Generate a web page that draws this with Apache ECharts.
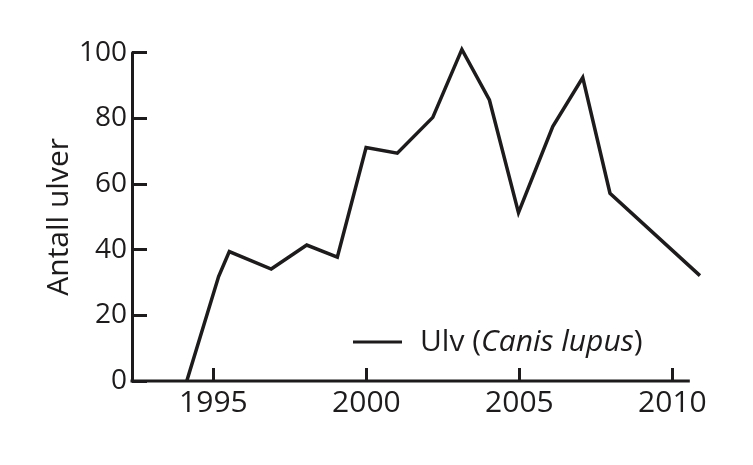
<!DOCTYPE html>
<html>
<head>
<meta charset="utf-8">
<script src="https://cdn.jsdelivr.net/npm/echarts@6/dist/echarts.min.js"></script>
<style>
html,body{margin:0;padding:0;background:#fff;}
#chart{width:753px;height:465px;}
</style>
</head>
<body>
<div id="chart"></div>
<script>
// Data (year, number of wolves)
var years  = [1994.13, 1995.17, 1995.52, 1996.89, 1998.05, 1999.05, 1999.99, 2001.01, 2002.17, 2003.12, 2004.02, 2004.97, 2006.09, 2007.07, 2007.96, 2010.90];
var wolves = [0, 31.8, 39.4, 34.1, 41.4, 37.7, 71.1, 69.4, 80.3, 101, 85.6, 51.3, 77.5, 92.4, 57.2, 32.1];
var xTickLabels = [1995, 2000, 2005, 2010];
var yTickLabels = [0, 20, 40, 60, 80, 100];
var xAxisStart = 1992.34;   // where the drawn x axis line begins
var xAxisEnd = 2010.52;     // where the drawn x axis line ends
var seriesName = 'Ulv (Canis lupus)';
var yAxisTitle = 'Antall ulver';

var FONT = '"Open Sans", sans-serif';
var INK = '#1d1b1c';

var points = years.map(function (y, i) { return [y, wolves[i]]; });

var chart = echarts.init(document.getElementById('chart'), null, {renderer: 'canvas'});
chart.setOption({
  animation: false,
  backgroundColor: '#ffffff',
  grid: {left: 132, right: 50, top: 52.7, bottom: 84, containLabel: false},
  legend: {
    left: 348, top: 322,
    icon: 'rect',
    itemWidth: 49, itemHeight: 3,
    data: [seriesName],
    formatter: function () { return '{n|Ulv (}{i|Canis lupus}{e|)}'; },
    textStyle: {
      fontFamily: FONT, fontSize: 30, color: INK,
      rich: {
        n: {fontFamily: FONT, fontSize: 30, color: INK, padding: [0, 0, 0, 13]},
        i: {fontFamily: FONT, fontSize: 30, color: INK, fontStyle: 'italic'},
        e: {fontFamily: FONT, fontSize: 30, color: INK}
      }
    }
  },
  xAxis: {
    type: 'value',
    min: xAxisStart, max: 2011,
    splitLine: {show: false},
    axisLine: {show: false},
    axisTick: {show: true, inside: true, length: 13, lineStyle: {color: INK, width: 3}, customValues: xTickLabels},
    axisLabel: {
      customValues: xTickLabels, margin: 7,
      fontFamily: FONT, fontSize: 30, color: INK,
      formatter: function (v) { return String(v); }
    }
  },
  yAxis: {
    type: 'value',
    min: 0, max: 100, interval: 20,
    name: yAxisTitle, nameLocation: 'middle', nameRotate: 90, nameGap: 58,
    nameMoveOverlap: false,
    nameTextStyle: {fontFamily: FONT, fontSize: 30, color: INK},
    splitLine: {show: false},
    axisLine: {show: true, lineStyle: {color: INK, width: 3}},
    axisTick: {show: true, inside: true, length: 15, lineStyle: {color: INK, width: 3}},
    axisLabel: {
      customValues: yTickLabels, margin: 5,
      fontFamily: FONT, fontSize: 28, color: INK
    }
  },
  series: [{
    name: 'axisBase',
    type: 'line',
    data: [[xAxisStart, 0], [xAxisEnd, 0]],
    symbol: 'none',
    silent: true,
    clip: false,
    lineStyle: {color: INK, width: 3, cap: 'square'},
    z: 1
  }, {
    name: seriesName,
    type: 'line',
    data: points,
    symbol: 'none',
    clip: false,
    lineStyle: {color: INK, width: 3.5, join: 'miter'},
    itemStyle: {color: INK},
    z: 3
  }]
});
</script>
</body>
</html>
